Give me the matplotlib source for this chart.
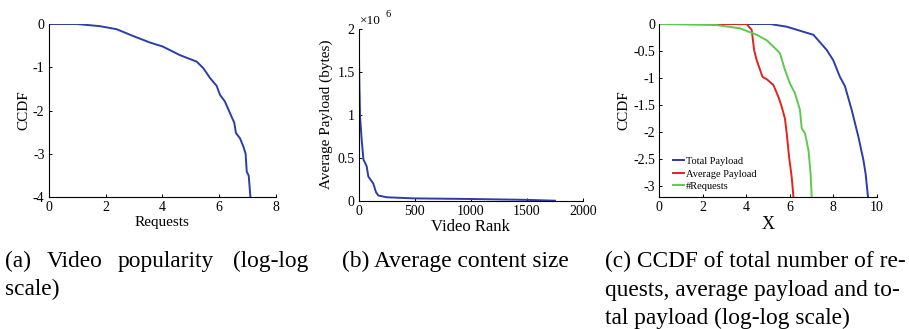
import matplotlib
matplotlib.use("Agg")
import matplotlib.pyplot as plt
from matplotlib.ticker import FuncFormatter

plt.rcParams['font.family'] = ['Liberation Serif', 'DejaVu Serif']
plt.rcParams['axes.unicode_minus'] = False

# (a) video popularity, log-log CCDF
req_x = [0, 0.99, 1.8, 2.39, 2.98, 3.57, 4.01, 4.62, 5.21, 5.44, 5.68, 5.91, 6.03,
         6.2, 6.38, 6.53, 6.59, 6.73, 6.85, 6.93, 6.97, 7.04, 7.1]
req_ccdf = [0, 0, -0.05, -0.12, -0.28, -0.43, -0.52, -0.72, -0.87, -1.02, -1.25, -1.43, -1.64,
            -1.79, -2.06, -2.28, -2.52, -2.64, -2.83, -3.0, -3.41, -3.51, -4.0]

# (b) average payload per video rank (bytes)
rank = [1, 6, 12, 27, 42, 71, 86, 130, 154, 175, 250, 487, 990, 1495, 1750]
avg_payload = [1.83e6, 1.36e6, 0.98e6, 0.7e6, 0.48e6, 0.4e6, 0.28e6, 0.2e6, 0.1e6,
               0.06e6, 0.04e6, 0.027e6, 0.02e6, 0.01e6, 0.0]

# (c) CCDFs (log-log)
tot_x = [1.49, 5.09, 5.86, 7.09, 7.7, 8.0, 8.31, 8.54, 8.85, 9.16, 9.39, 9.49, 9.6]
tot_y = [0, 0, -0.05, -0.2, -0.48, -0.67, -0.98, -1.15, -1.59, -2.09, -2.52, -2.77, -3.2]
avg_x = [1.49, 4.02, 4.25, 4.36, 4.48, 4.75, 4.94, 5.25, 5.48, 5.63, 5.78, 5.86, 5.97, 6.09, 6.17]
avg_y = [0, 0, -0.11, -0.48, -0.67, -0.98, -1.02, -1.13, -1.35, -1.53, -1.75, -2.02, -2.46, -2.83, -3.2]
nreq_x = [0, 2.64, 3.71, 4.48, 4.94, 5.25, 5.55, 5.78, 6.01, 6.24, 6.47, 6.55, 6.7, 6.86, 6.96, 7.01]
nreq_y = [0, -0.02, -0.08, -0.2, -0.3, -0.42, -0.54, -0.85, -1.1, -1.28, -1.59, -1.93, -2.02, -2.33, -2.77, -3.2]

blue = '#2b3da8'
red = '#e3221c'
green = '#5ec94f'

W, H = 909, 329
fig = plt.figure(figsize=(W / 100, H / 100), dpi=100)


def px_axes(l, t, r, b):
    return fig.add_axes([l / W, 1 - b / H, (r - l) / W, (b - t) / H])


def style(ax):
    ax.spines['top'].set_visible(False)
    ax.spines['right'].set_visible(False)
    for s in ('left', 'bottom'):
        ax.spines[s].set_linewidth(0.8)
    ax.tick_params(direction='in', length=2, width=0.7, labelsize=10, pad=3)


# panel a
ax1 = px_axes(48.7, 24, 276, 197)
ax1.plot(req_x, req_ccdf, color=blue, lw=1.4)
ax1.set_xlim(0, 8)
ax1.set_ylim(-4, 0)
ax1.set_xticks([0, 2, 4, 6, 8])
ax1.set_yticks([-4, -3, -2, -1, 0])
style(ax1)
ax1.set_xlabel('Requests', fontsize=11, labelpad=1)
ax1.set_ylabel('CCDF', fontsize=11, labelpad=2)

# panel b
ax2 = px_axes(358.7, 28.7, 583, 200.7)
ax2.plot(rank, avg_payload, color=blue, lw=1.4)
ax2.set_xlim(0, 2000)
ax2.set_ylim(0, 2e6)
ax2.set_xticks([0, 500, 1000, 1500, 2000])
ax2.set_yticks([0, 0.5e6, 1e6, 1.5e6, 2e6])
ax2.yaxis.set_major_formatter(FuncFormatter(lambda v, p: '%g' % (v / 1e6)))
style(ax2)
ax2.set_xlabel('Video Rank', fontsize=12, labelpad=1)
ax2.set_ylabel('Average Payload (bytes)', fontsize=11, labelpad=3)
ax2.text(0.006, 1.045, '\u00d710', transform=ax2.transAxes, fontsize=9.5, va='center', ha='left')
ax2.text(0.118, 1.085, '6', transform=ax2.transAxes, fontsize=7.5, va='center', ha='left')

# panel c
ax3 = px_axes(659.3, 24, 876.7, 197)
ax3.plot(tot_x, tot_y, color=blue, lw=1.4, label='Total Payload')
ax3.plot(avg_x, avg_y, color=red, lw=1.4, label='Average Payload')
ax3.plot(nreq_x, nreq_y, color=green, lw=1.4, label='#Requests')
ax3.set_xlim(0, 10)
ax3.set_ylim(-3.2, 0)
ax3.set_xticks([0, 2, 4, 6, 8, 10])
ax3.set_yticks([-3, -2.5, -2, -1.5, -1, -0.5, 0])
ax3.yaxis.set_major_formatter(FuncFormatter(lambda v, p: '%g' % v))
style(ax3)
ax3.set_xlabel('X', fontsize=13, labelpad=1)
ax3.set_ylabel('CCDF', fontsize=11, labelpad=2)
ax3.legend(loc='lower left', bbox_to_anchor=(0.063, 0.035), frameon=False, fontsize=7.5,
           handlelength=1.1, handletextpad=0.15, labelspacing=0.3, borderpad=0, borderaxespad=0)

# captions
cap = 16.8


def caption(x, y, s):
    fig.text(x / W, 1 - y / H, s, fontsize=cap, va='baseline', ha='left')


caption(5, 267, '(a)')
caption(47, 267, 'Video')
caption(118, 267, 'popularity')
caption(233, 267, '(log-log')
caption(5, 295, 'scale)')
caption(342, 267, '(b) Average content size')
caption(605, 267, '(c) CCDF of total number of re-')
caption(605, 296, 'quests, average payload and to-')
caption(605, 324, 'tal payload (log-log scale)')

fig.savefig('out.png', dpi=100)
